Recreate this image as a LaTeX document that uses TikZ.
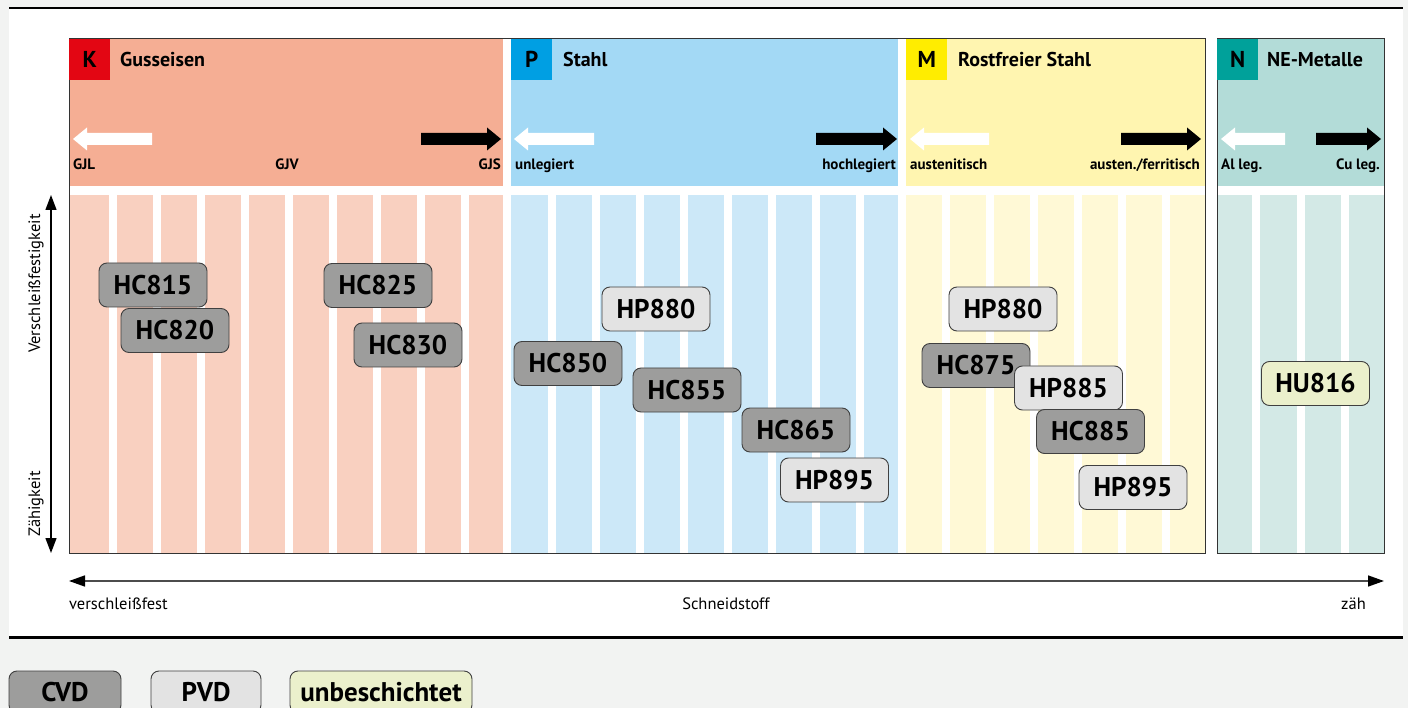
\documentclass[tikz,border=0pt]{standalone}
\usepackage{fontspec}
\setmainfont{PT Sans}
\usetikzlibrary{arrows.meta}
\usetikzlibrary{calc}
\usetikzlibrary{positioning}
\definecolor{pageGray}{HTML}{F2F3F2}
\definecolor{kRed}{HTML}{E30613}
\definecolor{kHead}{HTML}{F5AE94}
\definecolor{kCol}{HTML}{F9D0C0}
\definecolor{pBlue}{HTML}{009FE3}
\definecolor{pHead}{HTML}{A3D9F5}
\definecolor{pCol}{HTML}{CCE8F8}
\definecolor{mYellow}{HTML}{FFED00}
\definecolor{mHead}{HTML}{FFF5B0}
\definecolor{mCol}{HTML}{FFF9D6}
\definecolor{nTeal}{HTML}{00A19A}
\definecolor{nHead}{HTML}{B3DCD8}
\definecolor{nCol}{HTML}{D3E9E6}
\definecolor{cvdFill}{HTML}{9D9D9C}
\definecolor{pvdFill}{HTML}{E3E3E3}
\definecolor{uncFill}{HTML}{EBF0CC}
% block arrows in the headers: tip x, tip y, length
\newcommand{\leftblock}[3]{\fill[white] (#1,#2) -- ++(14,-11.5) -- ++(0,5.5) -- ++(#3-14,0) -- ++(0,12) -- ++(14-#3,0) -- ++(0,5.5) -- cycle;}
\newcommand{\rightblock}[3]{\fill[black] (#1,#2) -- ++(-14,-11.5) -- ++(0,5.5) -- ++(14-#3,0) -- ++(0,12) -- ++(#3-14,0) -- ++(0,5.5) -- cycle;}

\begin{document}
\begin{tikzpicture}[
    x=1pt, y=-1pt,
    grade/.style={
        draw=black!75, line width=0.9pt, rounded corners=8pt,
        minimum width=108pt, minimum height=44pt, inner sep=0pt,
        font=\bfseries\fontsize{27}{27}\selectfont,
    },
    cvd/.style={grade, fill=cvdFill},
    pvd/.style={grade, fill=pvdFill},
    unc/.style={grade, fill=uncFill},
    badge/.style={
        anchor=north west, minimum size=41pt, inner sep=0pt,
        font=\bfseries\fontsize{23}{23}\selectfont,
    },
    title/.style={anchor=base west, inner sep=0pt, font=\bfseries\fontsize{20}{20}\selectfont},
    sub/.style={inner sep=0pt, font=\bfseries\fontsize{15}{15}\selectfont},
    axislabel/.style={inner sep=0pt, font=\fontsize{16.5}{16.5}\selectfont},
    frame/.style={draw=black!80, line width=1pt},
    vaxis/.style={line width=1.3pt, {Triangle[length=15pt, width=11pt]}-{Triangle[length=15pt, width=11pt]}},
    haxis/.style={line width=1.5pt, black!70, {Triangle[length=16pt, width=11pt, black]}-{Triangle[length=16pt, width=11pt, black]}},
]
    \useasboundingbox (0,0) rectangle (1408,708);
    \clip (0,0) rectangle (1408,708);

    % --- page ---
    \fill[pageGray] (0,0) rectangle (1408,708);
    \fill[white] (9,8) rectangle (1403,637.5);
    \draw[line width=2.3pt] (9,8) -- (1403,8);
    \draw[line width=2.3pt] (9,637.5) -- (1403,637.5);

    % --- material groups: header and columns ---
    \fill[kHead] (69,39) rectangle (503,186);
    \fill[kCol] (69,195) rectangle (503,553);
    \foreach \gx in {109,153,...,461} \fill[white] (\gx,195) rectangle ++(8,358);

    \fill[pHead] (511,39) rectangle (898,186);
    \fill[pCol] (511,195) rectangle (898,553);
    \foreach \gx in {548,592,...,856} \fill[white] (\gx,195) rectangle ++(8,358);

    \fill[mHead] (906,39) rectangle (1205,186);
    \fill[mCol] (906,195) rectangle (1205,553);
    \foreach \gx in {942,986,...,1162} \fill[white] (\gx,195) rectangle ++(8,358);

    \fill[nHead] (1217,39) rectangle (1384,186);
    \fill[nCol] (1217,195) rectangle (1384,553);
    \foreach \gx in {1252,1297,1341} \fill[white] (\gx,195) rectangle ++(8,358);

    \draw[frame] (69,39) rectangle (1205,553);
    \draw[frame] (1217,39) rectangle (1384,553);

    % --- badges and titles ---
    \node[badge, fill=kRed] (kBadge) at (69,39) {K};
    \node[title] (kTitle) at (120,67) {Gusseisen};
    \node[badge, fill=pBlue] (pBadge) at (511,39) {P};
    \node[title] (pTitle) at (563,67) {Stahl};
    \node[badge, fill=mYellow] (mBadge) at (906,39) {M};
    \node[title] (mTitle) at (958,67) {Rostfreier Stahl};
    \node[badge, fill=nTeal] (nBadge) at (1217,39) {N};
    \node[title] (nTitle) at (1267,67) {NE-Metalle};

    % --- header arrows ---
    \leftblock{73}{139}{79}
    \rightblock{501}{139}{80}
    \leftblock{514}{139}{80}
    \rightblock{897}{139}{81}
    \leftblock{910}{139}{79}
    \rightblock{1201}{139}{80}
    \leftblock{1221}{139}{64}
    \rightblock{1381}{139}{65}

    \node[sub, anchor=base west] (gjl) at (73,169.5) {GJL};
    \node[sub, anchor=base] (gjv) at (287,169.5) {GJV};
    \node[sub, anchor=base east] (gjs) at (501,169.5) {GJS};
    \node[sub, anchor=base west] (unleg) at (515,169.5) {unlegiert};
    \node[sub, anchor=base east] (hochleg) at (896,169.5) {hochlegiert};
    \node[sub, anchor=base west] (austen) at (910,169.5) {austenitisch};
    \node[sub, anchor=base east] (austferr) at (1200,169.5) {austen./ferritisch};
    \node[sub, anchor=base west] (alleg) at (1221,169.5) {Al leg.};
    \node[sub, anchor=base east] (culeg) at (1380,169.5) {Cu leg.};

    % --- grades ---
    \node[cvd] (hc815) at (153,285) {HC815};
    \node[cvd] (hc820) at (175,330.5) {HC820};
    \node[cvd] (hc825) at (378,285.5) {HC825};
    \node[cvd] (hc830) at (408,345) {HC830};

    \node[pvd] (hp880p) at (656,309) {HP880};
    \node[cvd] (hc850) at (568,363.5) {HC850};
    \node[cvd] (hc855) at (687,390) {HC855};
    \node[cvd] (hc865) at (796,430) {HC865};
    \node[pvd] (hp895p) at (834.5,480) {HP895};

    \node[pvd] (hp880m) at (1003,309) {HP880};
    \node[cvd] (hc875) at (976,365.5) {HC875};
    \node[pvd] (hp885) at (1068.5,388) {HP885};
    \node[cvd] (hc885) at (1090.5,431.5) {HC885};
    \node[pvd] (hp895m) at (1133,487.5) {HP895};

    \node[unc] (hu816) at (1315.5,383.5) {HU816};

    % --- axes ---
    \coordinate (vtop) at (51,195);
    \coordinate (vbot) at (51,553);
    \draw[vaxis] (vtop) -- (vbot);
    \node[axislabel, rotate=90, anchor=base west] (wearY) at (40,353) {Verschleißfestigkeit};
    \node[axislabel, rotate=90, anchor=base west] (toughY) at (40,537) {Zähigkeit};

    \coordinate (hleft) at (69,581);
    \coordinate (hright) at (1384,581);
    \draw[haxis] (hleft) -- (hright);
    \node[axislabel, anchor=base west] (wearX) at (69,609) {verschleißfest};
    \node[axislabel, anchor=base] (toolX) at (726,609) {Schneidstoff};
    \node[axislabel, anchor=base east] (toughX) at (1366,609) {zäh};

    % --- legend ---
    \node[cvd, minimum width=112pt, minimum height=42pt] (legCvd) at (65,692) {CVD};
    \node[pvd, minimum width=110pt, minimum height=42pt] (legPvd) at (206,692) {PVD};
    \node[unc, minimum width=182pt, minimum height=42pt] (legUnc) at (381,692) {unbeschichtet};
\end{tikzpicture}
\end{document}
